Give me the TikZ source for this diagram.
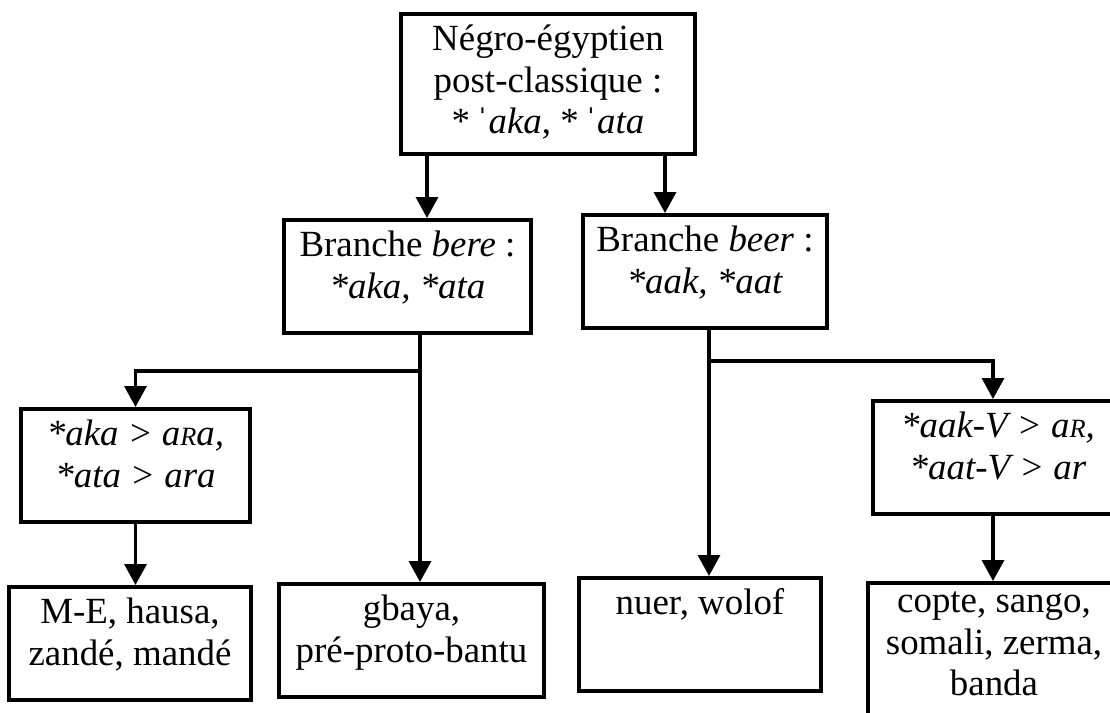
\documentclass[tikz,border=0pt]{standalone}
\usepackage{fontspec}
\setmainfont{Liberation Serif}
\usetikzlibrary{arrows.meta}
\newcommand{\topgap}{\rule{0pt}{0.74cm}}
\newcommand{\botgap}[1]{\rule[-#1]{0pt}{0pt}}
\newcommand{\smR}{{\fontsize{15}{15}\selectfont R}}
\tikzset{
  famarr/.style={-{Triangle[length=4.2mm,width=4.4mm]}, line width=1.9pt},
  fambox/.style={draw, line width=2.2pt, align=center, anchor=north,
    inner xsep=0pt, inner ysep=0pt, font=\fontsize{21}{23.6}\selectfont},
}

\begin{document}
\begin{tikzpicture}[x=0.02cm,y=-0.02cm]
\useasboundingbox (0,0) rectangle (1110,713);
\clip (0,0) rectangle (1110,713);

% ============ root and the two branches =====================================
\node[fambox, minimum width=5.88cm] (proto) at (548,12)
  {\topgap Négro-égyptien\\ post-classique :\\
   *\,ˈ\textit{aka}, *\,ˈ\textit{ata}\botgap{0.4cm}};
\node[fambox, minimum width=4.94cm] (bere) at (407.5,218)
  {\topgap Branche \textit{bere} :\\ \textit{*aka, *ata}\botgap{0.7cm}};
\node[fambox, minimum width=4.88cm] (beer) at (705,213)
  {\topgap Branche \textit{beer} :\\ \textit{*aak, *aat}\botgap{0.7cm}};

% ============ sound changes ================================================
\node[fambox, minimum width=4.58cm] (ake) at (135.5,407)
  {\topgap\textit{*aka > a\smR a,}\\ \textit{*ata > ara}\botgap{0.7cm}};
\node[fambox, minimum width=5.0cm] (aak) at (998,399)
  {\topgap\textit{*aak-V > a\smR,}\\ \textit{*aat-V > ar}\botgap{0.7cm}};

% ============ languages ====================================================
\node[fambox, minimum width=4.84cm] (me) at (130,585)
  {\topgap M-E, hausa,\\ zandé, mandé\botgap{0.7cm}};
\node[fambox, minimum width=5.3cm] (gbaya) at (411.5,582)
  {\topgap gbaya,\\ pré-proto-bantu\botgap{0.7cm}};
\node[fambox, minimum width=4.84cm] (nuer) at (700,576)
  {\topgap nuer, wolof\botgap{1.52cm}};
\node[fambox, minimum width=5.04cm] (copte) at (994,581)
  {\rule{0pt}{0.6cm}copte, sango,\\ somali, zerma,\\ banda\botgap{0.7cm}};

% ============ connectors ===================================================
\coordinate (lx) at (427,0);
\coordinate (rx) at (665,0);
\coordinate (bj) at (420,371);
\coordinate (rj) at (709,361);
\coordinate (cx) at (993,0);
\draw[famarr] (proto.south -| lx) -- (bere.north -| lx);
\draw[famarr] (proto.south -| rx) -- (beer.north -| rx);
\draw[famarr] (bere.south -| bj) -- (gbaya.north -| bj);
\draw[famarr] (bj) -| (ake.north);
\draw[famarr] (beer.south -| rj) -- (nuer.north -| rj);
\draw[famarr] (rj) -| (aak.north -| cx);
\draw[famarr] (ake.south) -- (me.north -| ake.south);
\draw[famarr] (aak.south -| cx) -- (copte.north -| cx);

\end{tikzpicture}
\end{document}
